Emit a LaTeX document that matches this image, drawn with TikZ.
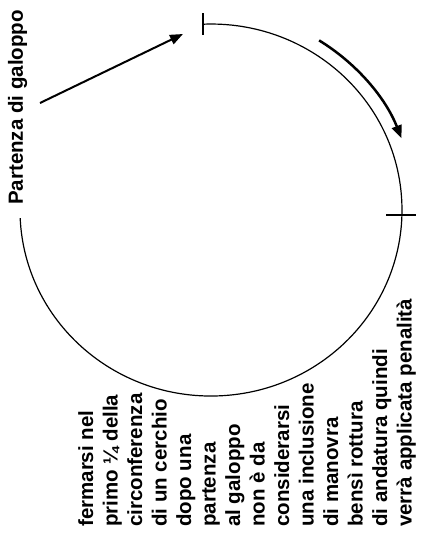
\documentclass[tikz,border=0pt]{standalone}
\usepackage{fontspec}
\setsansfont{Liberation Sans}
\usetikzlibrary{arrows.meta,positioning}

\begin{document}
\begin{tikzpicture}[x=1pt, y=-1pt,
    track/.style={line width=1.2pt},
    cut/.style={line width=1.2pt},
    pointer/.style={line width=2pt, -{Triangle[length=13pt,width=10pt]}},
    heading/.style={font=\sffamily\bfseries\fontsize{20.5}{24.5}\selectfont, inner sep=0pt, rotate=90},
    note/.style={heading, align=left}
]
    \useasboundingbox (0,0) rectangle (424,533);
    % the circle, left open in the upper-left quarter
    \coordinate (centre) at (211,210);
    \coordinate (start) at (203,24.2);
    \draw[track] (start) arc[start angle=-92.4, end angle=177.5, x radius=191, y radius=186];
    \draw[cut] (203,13) -- (203,35);
    \draw[cut] (386,215) -- (416,215);
    % start of the canter
    \node[heading, anchor=base west] (depart) at (23,205) {Partenza di galoppo};
    \coordinate (from) at (40,103);
    \coordinate (to) at (183,34);
    \draw[pointer] (from) -- (to);
    % direction of travel
    \coordinate (way) at (319.1,40.4);
    \draw[pointer, line width=2.5pt] (way) arc[start angle=-58, end angle=-21, x radius=204, y radius=200];
    % rule text
    \node[note, anchor=north west] (rule) at (78,527) {fermarsi nel\\
        primo ¼ della\\
        circonferenza\\
        di un cerchio\\
        dopo una\\
        partenza\\
        al galoppo\\
        non è da\\
        considerarsi\\
        una inclusione\\
        di manovra\\
        bensì rottura\\
        di andatura quindi\\
        verrà applicata penalità};
\end{tikzpicture}
\end{document}
